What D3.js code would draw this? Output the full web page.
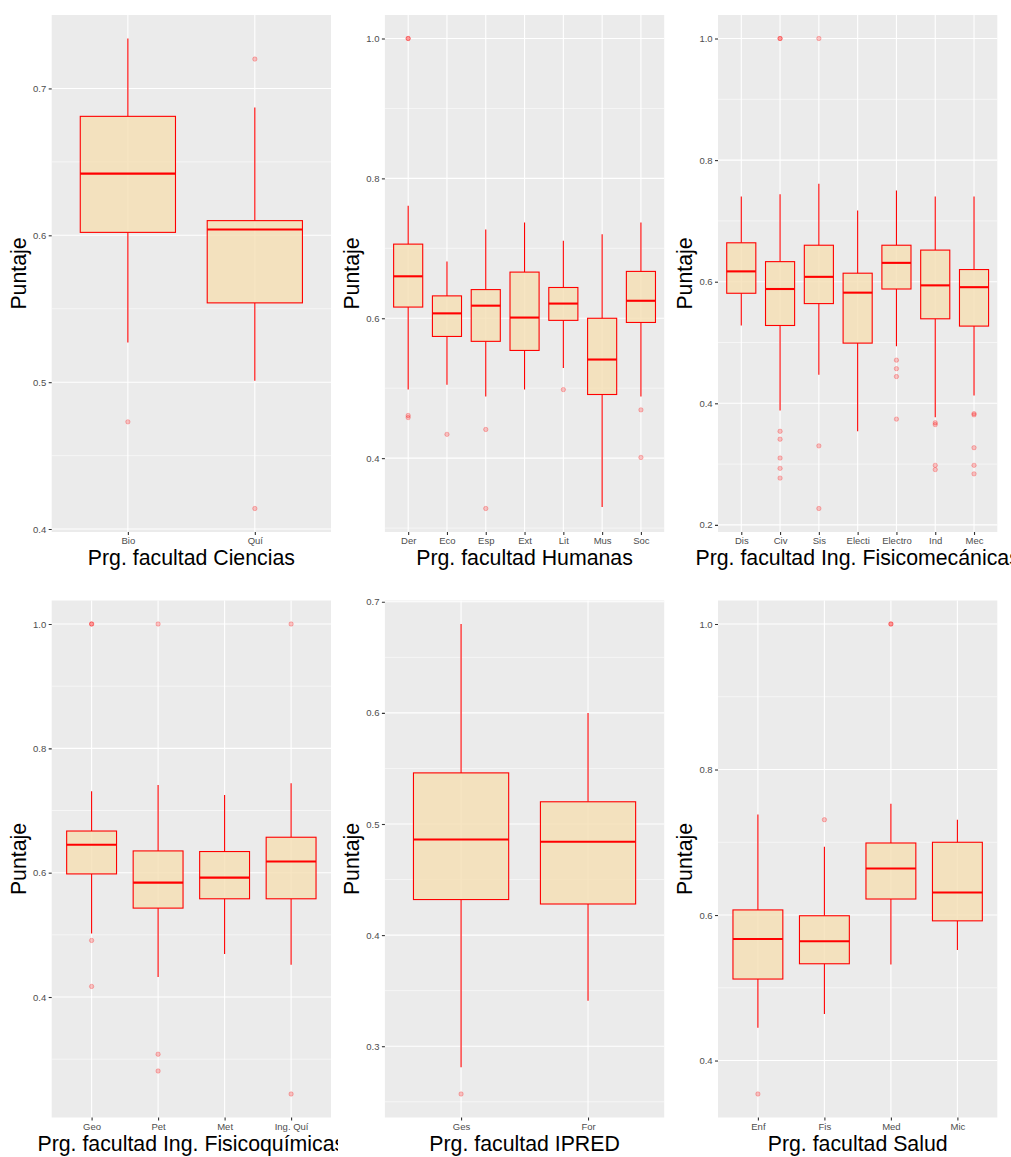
<!DOCTYPE html>
<html>
<head>
<meta charset="utf-8">
<script src="https://cdn.jsdelivr.net/npm/d3@7"></script>
<style>
  html, body { margin: 0; padding: 0; background: #ffffff; }
  svg { display: block; }
  text { font-family: "Liberation Sans", Arial, sans-serif; }
</style>
</head>
<body>
<svg id="chart" width="1011" height="1157"></svg>
<script>
// Puntaje por programa, agrupado por facultad.
// Cada caja: bigote inferior, Q1, mediana, Q3, bigote superior y atípicos.

const ciencias = [
  { prog: "Bio", lo: 0.527, q1: 0.602, med: 0.642, q3: 0.681, hi: 0.734, out: [0.473] },
  { prog: "Quí", lo: 0.501, q1: 0.554, med: 0.604, q3: 0.610, hi: 0.687, out: [0.720, 0.414] }
];
const cienciasTicks = [0.4, 0.5, 0.6, 0.7];

const humanas = [
  { prog: "Der", lo: 0.498, q1: 0.616, med: 0.660, q3: 0.706, hi: 0.761, out: [1.0, 1.0, 0.461, 0.458] },
  { prog: "Eco", lo: 0.505, q1: 0.574, med: 0.607, q3: 0.632, hi: 0.681, out: [0.434] },
  { prog: "Esp", lo: 0.488, q1: 0.567, med: 0.618, q3: 0.641, hi: 0.727, out: [0.441, 0.328] },
  { prog: "Ext", lo: 0.498, q1: 0.554, med: 0.601, q3: 0.666, hi: 0.737, out: [] },
  { prog: "Lit", lo: 0.529, q1: 0.597, med: 0.621, q3: 0.644, hi: 0.711, out: [0.498] },
  { prog: "Mus", lo: 0.330, q1: 0.491, med: 0.541, q3: 0.600, hi: 0.720, out: [] },
  { prog: "Soc", lo: 0.488, q1: 0.594, med: 0.625, q3: 0.667, hi: 0.737, out: [0.469, 0.401] }
];
const humanasTicks = [0.4, 0.6, 0.8, 1.0];

const fisicomecanicas = [
  { prog: "Dis", lo: 0.528, q1: 0.581, med: 0.617, q3: 0.664, hi: 0.740, out: [] },
  { prog: "Civ", lo: 0.388, q1: 0.528, med: 0.588, q3: 0.633, hi: 0.744, out: [1.0, 1.0, 0.354, 0.341, 0.310, 0.293, 0.277] },
  { prog: "Sis", lo: 0.447, q1: 0.564, med: 0.608, q3: 0.660, hi: 0.761, out: [1.0, 0.330, 0.227] },
  { prog: "Electi", lo: 0.354, q1: 0.499, med: 0.582, q3: 0.614, hi: 0.717, out: [] },
  { prog: "Electro", lo: 0.494, q1: 0.588, med: 0.631, q3: 0.660, hi: 0.750, out: [0.471, 0.457, 0.444, 0.374] },
  { prog: "Ind", lo: 0.377, q1: 0.539, med: 0.594, q3: 0.652, hi: 0.740, out: [0.368, 0.365, 0.298, 0.291] },
  { prog: "Mec", lo: 0.413, q1: 0.527, med: 0.591, q3: 0.620, hi: 0.740, out: [0.383, 0.381, 0.327, 0.298, 0.284] }
];
const fisicomecanicasTicks = [0.2, 0.4, 0.6, 0.8, 1.0];

const fisicoquimicas = [
  { prog: "Geo", lo: 0.502, q1: 0.598, med: 0.645, q3: 0.667, hi: 0.731, out: [1.0, 1.0, 0.491, 0.417] },
  { prog: "Pet", lo: 0.432, q1: 0.543, med: 0.584, q3: 0.635, hi: 0.741, out: [1.0, 0.308, 0.281] },
  { prog: "Met", lo: 0.469, q1: 0.558, med: 0.592, q3: 0.634, hi: 0.725, out: [] },
  { prog: "Ing. Quí", lo: 0.452, q1: 0.558, med: 0.618, q3: 0.657, hi: 0.744, out: [1.0, 0.244] }
];
const fisicoquimicasTicks = [0.4, 0.6, 0.8, 1.0];

const ipred = [
  { prog: "Ges", lo: 0.281, q1: 0.432, med: 0.486, q3: 0.546, hi: 0.680, out: [0.257] },
  { prog: "For", lo: 0.341, q1: 0.428, med: 0.484, q3: 0.520, hi: 0.600, out: [] }
];
const ipredTicks = [0.3, 0.4, 0.5, 0.6, 0.7];

const salud = [
  { prog: "Enf", lo: 0.445, q1: 0.512, med: 0.567, q3: 0.607, hi: 0.738, out: [0.354] },
  { prog: "Fis", lo: 0.464, q1: 0.533, med: 0.564, q3: 0.599, hi: 0.694, out: [0.731] },
  { prog: "Med", lo: 0.532, q1: 0.622, med: 0.664, q3: 0.699, hi: 0.753, out: [1.0, 1.0] },
  { prog: "Mic", lo: 0.552, q1: 0.592, med: 0.631, q3: 0.700, hi: 0.731, out: [] }
];
const saludTicks = [0.4, 0.6, 0.8, 1.0];

const facultyTitles = [
  "Prg. facultad Ciencias",
  "Prg. facultad Humanas",
  "Prg. facultad Ing. Fisicomecánicas",
  "Prg. facultad Ing. Fisicoquímicas",
  "Prg. facultad IPRED",
  "Prg. facultad Salud"
];
const yTitle = "Puntaje";

// ---- layout: 3 columns x 2 rows of ggplot-style panels ----
const panelLeft = [51.7, 384.9, 718];
const panelWidth = 279.3;
const panelTop = [15, 600.5];
const panelHeight = 517;
const cellClip = [[0, 338], [338, 671], [671, 1011]];

const facets = [
  { boxes: ciencias, ticks: cienciasTicks },
  { boxes: humanas, ticks: humanasTicks },
  { boxes: fisicomecanicas, ticks: fisicomecanicasTicks },
  { boxes: fisicoquimicas, ticks: fisicoquimicasTicks },
  { boxes: ipred, ticks: ipredTicks },
  { boxes: salud, ticks: saludTicks }
];

const svg = d3.select("#chart");
const defs = svg.append("defs");
const fmt = d3.format(".1f");

facets.forEach((f, i) => {
  const col = i % 3, row = Math.floor(i / 3);
  const x0 = panelLeft[col], x1 = x0 + panelWidth;
  const y0 = panelTop[row], y1 = y0 + panelHeight;

  const clipId = "cell" + i;
  defs.append("clipPath").attr("id", clipId)
    .append("rect")
    .attr("x", cellClip[col][0]).attr("y", row === 0 ? 0 : 578.5)
    .attr("width", cellClip[col][1] - cellClip[col][0]).attr("height", 578.5);

  const g = svg.append("g").attr("clip-path", `url(#${clipId})`);

  // data range expanded by 5% on each side
  const vals = f.boxes.flatMap(b => [b.lo, b.hi, ...b.out]);
  const mn = d3.min(vals), mx = d3.max(vals);
  const pad = (mx - mn) * 0.05;

  const y = d3.scaleLinear().domain([mn - pad, mx + pad]).range([y1, y0]);
  const x = d3.scalePoint().domain(f.boxes.map(b => b.prog)).range([x0, x1]).padding(0.6);
  const boxW = x.step() * 0.75;

  // panel background
  g.append("rect").attr("x", x0).attr("y", y0)
    .attr("width", panelWidth).attr("height", panelHeight)
    .attr("fill", "#EBEBEB");

  // minor grid: halfway between major breaks
  const step = f.ticks[1] - f.ticks[0];
  const minor = [];
  for (let k = -1; k < f.ticks.length; k++) {
    const v = f.ticks[0] + step * (k + 0.5);
    if (v > y.domain()[0] && v < y.domain()[1]) minor.push(v);
  }
  g.selectAll(null).data(minor).join("line")
    .attr("x1", x0).attr("x2", x1)
    .attr("y1", d => y(d)).attr("y2", d => y(d))
    .attr("stroke", "#ffffff").attr("stroke-width", 0.55);

  // major grid
  g.selectAll(null).data(f.ticks).join("line")
    .attr("x1", x0).attr("x2", x1)
    .attr("y1", d => y(d)).attr("y2", d => y(d))
    .attr("stroke", "#ffffff").attr("stroke-width", 1.1);
  g.selectAll(null).data(x.domain()).join("line")
    .attr("x1", d => x(d)).attr("x2", d => x(d))
    .attr("y1", y0).attr("y2", y1)
    .attr("stroke", "#ffffff").attr("stroke-width", 1.1);

  // y axis
  const yAxis = g.append("g").attr("transform", `translate(${x0},0)`)
    .call(d3.axisLeft(y).tickValues(f.ticks).tickFormat(fmt).tickSize(3).tickPadding(2.4));
  yAxis.select(".domain").remove();
  yAxis.selectAll(".tick line").attr("stroke", "#333333").attr("stroke-width", 1.1);
  yAxis.selectAll(".tick text").attr("fill", "#4D4D4D")
    .style("font-size", "9.5px").style("font-family", "'Liberation Sans', Arial, sans-serif");

  // x axis
  const xAxis = g.append("g").attr("transform", `translate(0,${y1})`)
    .call(d3.axisBottom(x).tickSize(3).tickPadding(2.4));
  xAxis.select(".domain").remove();
  xAxis.selectAll(".tick line").attr("stroke", "#333333").attr("stroke-width", 1.1);
  xAxis.selectAll(".tick text").attr("fill", "#4D4D4D")
    .style("font-size", "9.5px").style("font-family", "'Liberation Sans', Arial, sans-serif");

  // boxes
  const bx = g.selectAll(null).data(f.boxes).join("g");

  bx.each(function (b) {
    const s = d3.select(this);
    s.selectAll(null).data(b.out).join("circle")
      .attr("cx", x(b.prog)).attr("cy", d => y(d)).attr("r", 2.2)
      .attr("fill", "#ff0000").attr("fill-opacity", 0.22)
      .attr("stroke", "#ff0000").attr("stroke-opacity", 0.3).attr("stroke-width", 0.8);
  });

  bx.append("line")
    .attr("x1", b => x(b.prog)).attr("x2", b => x(b.prog))
    .attr("y1", b => y(b.hi)).attr("y2", b => y(b.q3))
    .attr("stroke", "#ff0000").attr("stroke-width", 1.1);
  bx.append("line")
    .attr("x1", b => x(b.prog)).attr("x2", b => x(b.prog))
    .attr("y1", b => y(b.q1)).attr("y2", b => y(b.lo))
    .attr("stroke", "#ff0000").attr("stroke-width", 1.1);

  bx.append("rect")
    .attr("x", b => x(b.prog) - boxW / 2).attr("width", boxW)
    .attr("y", b => y(b.q3)).attr("height", b => y(b.q1) - y(b.q3))
    .attr("fill", "#F5DEB3").attr("fill-opacity", 0.8)
    .attr("stroke", "#ff0000").attr("stroke-width", 1.1);

  bx.append("line")
    .attr("x1", b => x(b.prog) - boxW / 2).attr("x2", b => x(b.prog) + boxW / 2)
    .attr("y1", b => y(b.med)).attr("y2", b => y(b.med))
    .attr("stroke", "#ff0000").attr("stroke-width", 2.1);

  // axis titles
  g.append("text")
    .attr("x", (x0 + x1) / 2).attr("y", y1 + 33)
    .attr("text-anchor", "middle")
    .style("font-size", "21.3px").attr("fill", "#000000")
    .text(facultyTitles[i]);

  g.append("text")
    .attr("transform", `translate(${x0 - 26},${(y0 + y1) / 2}) rotate(-90)`)
    .attr("text-anchor", "middle")
    .style("font-size", "21.3px").attr("fill", "#000000")
    .text(yTitle);
});
</script>
</body>
</html>
